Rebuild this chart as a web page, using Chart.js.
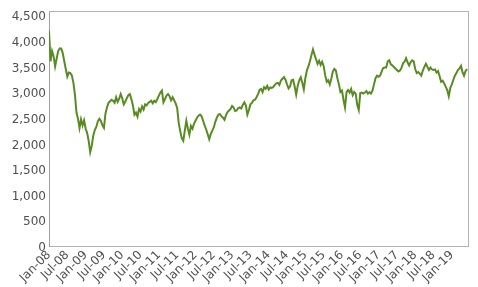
<!DOCTYPE html>
<html>
<head>
<meta charset="utf-8">
<script src="https://cdn.jsdelivr.net/npm/chart.js@4.4.0/dist/chart.umd.min.js"></script>
<style>
  html, body { margin: 0; padding: 0; background: #fff; }
  #wrap { width: 478px; height: 287px; }
</style>
</head>
<body>
<div id="wrap"><canvas id="chart"></canvas></div>
<script>
// Index level at half-month steps (1st and 15th), one array per year
const y2008 = [4200, 3600, 3800, 3700, 3500, 3650, 3800, 3850, 3850, 3760, 3600, 3450,
  3300, 3380, 3370, 3320, 3180, 2950, 2600, 2480, 2300, 2470, 2350, 2450];
const y2009 = [2290, 2200, 2050, 1830, 1950, 2150, 2260, 2320, 2430, 2480, 2440, 2350,
  2300, 2580, 2700, 2790, 2820, 2850, 2830, 2790, 2900, 2810, 2870, 2960];
const y2010 = [2880, 2760, 2810, 2880, 2940, 2960, 2860, 2740, 2560, 2600, 2520, 2670,
  2620, 2720, 2660, 2760, 2740, 2790, 2810, 2830, 2780, 2830, 2805, 2865];
const y2011 = [2930, 2990, 3030, 2800, 2860, 2930, 2960, 2920, 2840, 2900, 2840, 2780,
  2690, 2400, 2240, 2100, 2050, 2250, 2440, 2290, 2170, 2340, 2285, 2380];
const y2012 = [2440, 2500, 2540, 2560, 2530, 2440, 2350, 2270, 2180, 2080, 2180, 2250,
  2310, 2420, 2500, 2560, 2570, 2530, 2500, 2460, 2550, 2610, 2640, 2670];
const y2013 = [2730, 2700, 2630, 2640, 2690, 2700, 2680, 2750, 2800, 2740, 2560, 2650,
  2760, 2790, 2840, 2850, 2900, 2960, 3040, 3060, 3000, 3095, 3065, 3120];
const y2014 = [3050, 3090, 3080, 3100, 3140, 3170, 3180, 3140, 3225, 3260, 3290, 3240,
  3150, 3070, 3110, 3230, 3240, 3110, 2950, 3120, 3230, 3290, 3180, 3050];
const y2015 = [3270, 3420, 3500, 3600, 3720, 3830, 3730, 3640, 3550, 3610, 3530, 3590,
  3510, 3330, 3200, 3230, 3150, 3260, 3400, 3450, 3420, 3270, 3150, 3000];
const y2016 = [3030, 2850, 2700, 3000, 3040, 2990, 3060, 2940, 3000, 2970, 2750, 2650,
  2980, 2990, 2970, 2990, 3020, 2970, 3000, 2970, 3030, 3150, 3270, 3320];
const y2017 = [3300, 3320, 3400, 3470, 3480, 3480, 3600, 3620, 3540, 3520, 3490, 3460,
  3430, 3400, 3420, 3470, 3560, 3590, 3660, 3580, 3520, 3580, 3620, 3600];
const y2018 = [3450, 3370, 3390, 3360, 3320, 3420, 3490, 3550, 3490, 3430, 3480, 3440,
  3430, 3440, 3380, 3410, 3310, 3200, 3220, 3170, 3100, 3040, 2920, 3080];
const y2019 = [3150, 3240, 3320, 3370, 3430, 3460, 3510, 3390, 3320, 3410, 3450];

const tickLabels = [
  'Jan-08', 'Jul-08', 'Jan-09', 'Jul-09', 'Jan-10', 'Jul-10', 'Jan-11', 'Jul-11',
  'Jan-12', 'Jul-12', 'Jan-13', 'Jul-13', 'Jan-14', 'Jul-14', 'Jan-15', 'Jul-15',
  'Jan-16', 'Jul-16', 'Jan-17', 'Jul-17', 'Jan-18', 'Jul-18', 'Jan-19',
];
const yTicks = [0, 500, 1000, 1500, 2000, 2500, 3000, 3500, 4000, 4500];

const values = [].concat(y2008, y2009, y2010, y2011, y2012, y2013,
  y2014, y2015, y2016, y2017, y2018, y2019);
// x is months since Jan 2008, one point every half month
const points = values.map((v, i) => ({ x: i / 2, y: v }));

Chart.defaults.font.family = '"DejaVu Sans", Verdana, sans-serif';
Chart.defaults.font.size = 12;
Chart.defaults.color = '#505050';

const boxColor = '#b4b4b4';

// top and right edges of the plot box come from two empty axes
const edge = (position) => ({
  position,
  display: true,
  afterFit: (s) => { s.width = 0; s.height = 0; },
  grid: { display: false, drawTicks: false },
  border: { display: true, color: boxColor },
  ticks: { display: false },
});

new Chart(document.getElementById('chart'), {
  type: 'line',
  data: {
    datasets: [{
      data: points,
      borderColor: '#588c23',
      borderWidth: 2,
      pointRadius: 0,
      tension: 0,
      fill: false,
    }],
  },
  options: {
    responsive: true,
    maintainAspectRatio: false,
    animation: false,
    layout: { padding: { top: 11, right: 10, left: 0, bottom: 0 } },
    scales: {
      x: {
        type: 'linear',
        min: 0,
        max: 137.3,
        afterBuildTicks: (s) => { s.ticks = tickLabels.map((_, i) => ({ value: i * 6 })); },
        afterFit: (s) => { s.height = 41; },
        grid: { display: false, drawTicks: false },
        border: { display: true, color: boxColor },
        ticks: {
          autoSkip: false,
          minRotation: 45,
          maxRotation: 45,
          padding: 2,
          callback: (v) => tickLabels[Math.round(v / 6)],
        },
      },
      y: {
        min: 0,
        max: 4580,
        afterBuildTicks: (s) => { s.ticks = yTicks.map((v) => ({ value: v })); },
        afterFit: (s) => { s.width = 49; },
        grid: { display: false, drawTicks: false },
        border: { display: true, color: '#a0a0a0' },
        ticks: {
          padding: 3,
          labelOffset: 2,
          callback: (v) => v.toLocaleString('en-US'),
        },
      },
      xTop: { type: 'linear', axis: 'x', ...edge('top') },
      yRight: { type: 'linear', axis: 'y', ...edge('right') },
    },
    plugins: {
      legend: { display: false },
      tooltip: { enabled: false },
    },
  },
});
</script>
</body>
</html>
